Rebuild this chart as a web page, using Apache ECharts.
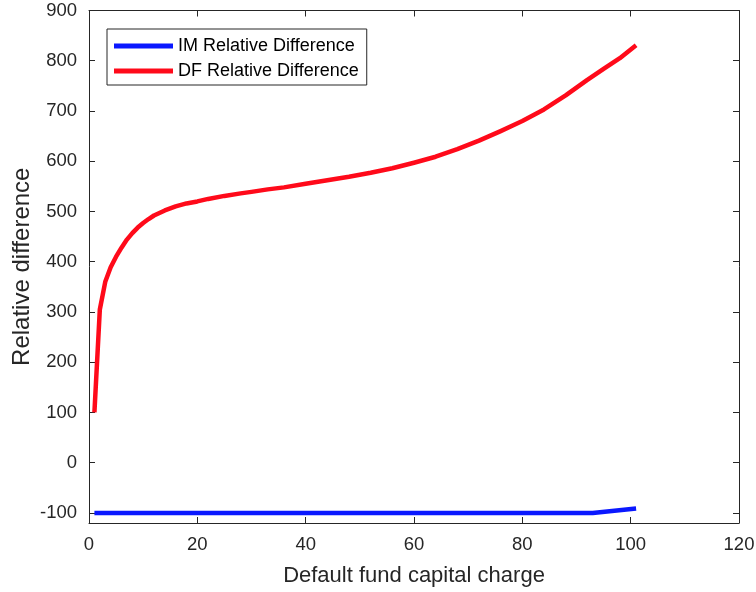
<!DOCTYPE html>
<html>
<head>
<meta charset="utf-8">
<script src="https://cdn.jsdelivr.net/npm/echarts@6/dist/echarts.min.js"></script>
<style>
html,body{margin:0;padding:0;background:#fff;}
#chart{width:756px;height:592px;}
</style>
</head>
<body>
<div id="chart"></div>
<script>
// ---- data ----
const dfX = [1, 2, 3, 4, 5, 6, 7, 8, 9, 10, 11, 12, 14, 16, 18, 20, 22, 25, 28, 30, 33, 36, 40, 44, 48, 52, 56, 60, 64, 68, 72, 76, 80, 84, 88, 92, 95, 98, 101];
const dfY = [100, 305, 360, 389, 410, 428, 444, 457, 468, 477, 485, 492, 502, 510, 516, 520, 525, 531, 536, 539, 544, 548, 555, 562, 569, 577, 586, 597, 609, 624, 641, 660, 680, 703, 731, 762, 784, 805, 831];
const imX = [1, 20, 40, 60, 80, 93, 101];
const imY = [-100, -100, -100, -100, -100, -100, -91];
const seriesNames = ['IM Relative Difference', 'DF Relative Difference'];
const xName = 'Default fund capital charge';
const yName = 'Relative difference';

const FONT = '"Liberation Sans", Arial, Helvetica, sans-serif';
const AX = '#262626';

const zip = (xs, ys) => xs.map((x, i) => [x, ys[i]]);

const chart = echarts.init(document.getElementById('chart'), null, {renderer: 'canvas'});

const baseX = {
  type: 'value', min: 0, max: 120, interval: 20,
  axisLine: {show: true, onZero: false, lineStyle: {color: AX, width: 1}},
  axisTick: {show: true, inside: true, length: 6, lineStyle: {color: AX}},
  splitLine: {show: false}
};
const baseY = {
  type: 'value', min: -120, max: 900, splitNumber: 10,
  axisLine: {show: true, onZero: false, lineStyle: {color: AX, width: 1}},
  axisTick: {show: true, inside: true, length: 6, lineStyle: {color: AX}},
  splitLine: {show: false}
};

chart.setOption({
  backgroundColor: '#fff',
  animation: false,
  textStyle: {fontFamily: FONT},
  grid: {left: 89, right: 17, top: 10.5, bottom: 69, containLabel: false, outerBoundsMode: 'none'},
  legend: {
    orient: 'vertical', left: 107, top: 29,
    data: seriesNames,
    icon: 'rect', itemWidth: 59, itemHeight: 5, itemGap: 5,
    padding: [7, 8, 4, 7],
    borderColor: AX, borderWidth: 1, backgroundColor: '#fff',
    textStyle: {fontFamily: FONT, fontSize: 18, color: '#000', lineHeight: 20}
  },
  xAxis: [
    Object.assign({}, baseX, {
      position: 'bottom',
      name: xName, nameLocation: 'middle', nameGap: 42, nameMoveOverlap: false,
      nameTextStyle: {fontFamily: FONT, fontSize: 22, color: AX},
      axisLabel: {show: true, fontFamily: FONT, fontSize: 18.5, color: AX, margin: 12}
    }),
    Object.assign({}, baseX, {position: 'top', axisLabel: {show: false}})
  ],
  yAxis: [
    Object.assign({}, baseY, {
      position: 'left',
      name: yName, nameLocation: 'middle', nameGap: 55, nameMoveOverlap: false,
      nameTextStyle: {fontFamily: FONT, fontSize: 24, color: AX},
      axisLabel: {show: true, showMinLabel: false, fontFamily: FONT, fontSize: 18.5, color: AX, margin: 12}
    }),
    Object.assign({}, baseY, {position: 'right', axisLabel: {show: false}})
  ],
  series: [
    {
      name: seriesNames[0], type: 'line', xAxisIndex: 0, yAxisIndex: 0,
      data: zip(imX, imY), showSymbol: false, symbol: 'none',
      lineStyle: {color: '#0a18ff', width: 4.5}, itemStyle: {color: '#0a18ff'}, z: 3
    },
    {
      name: seriesNames[1], type: 'line', xAxisIndex: 0, yAxisIndex: 0,
      data: zip(dfX, dfY), showSymbol: false, symbol: 'none', smooth: false,
      lineStyle: {color: '#ff0a1a', width: 4.5, join: 'round'}, itemStyle: {color: '#ff0a1a'}, z: 3
    }
  ]
});
</script>
</body>
</html>
